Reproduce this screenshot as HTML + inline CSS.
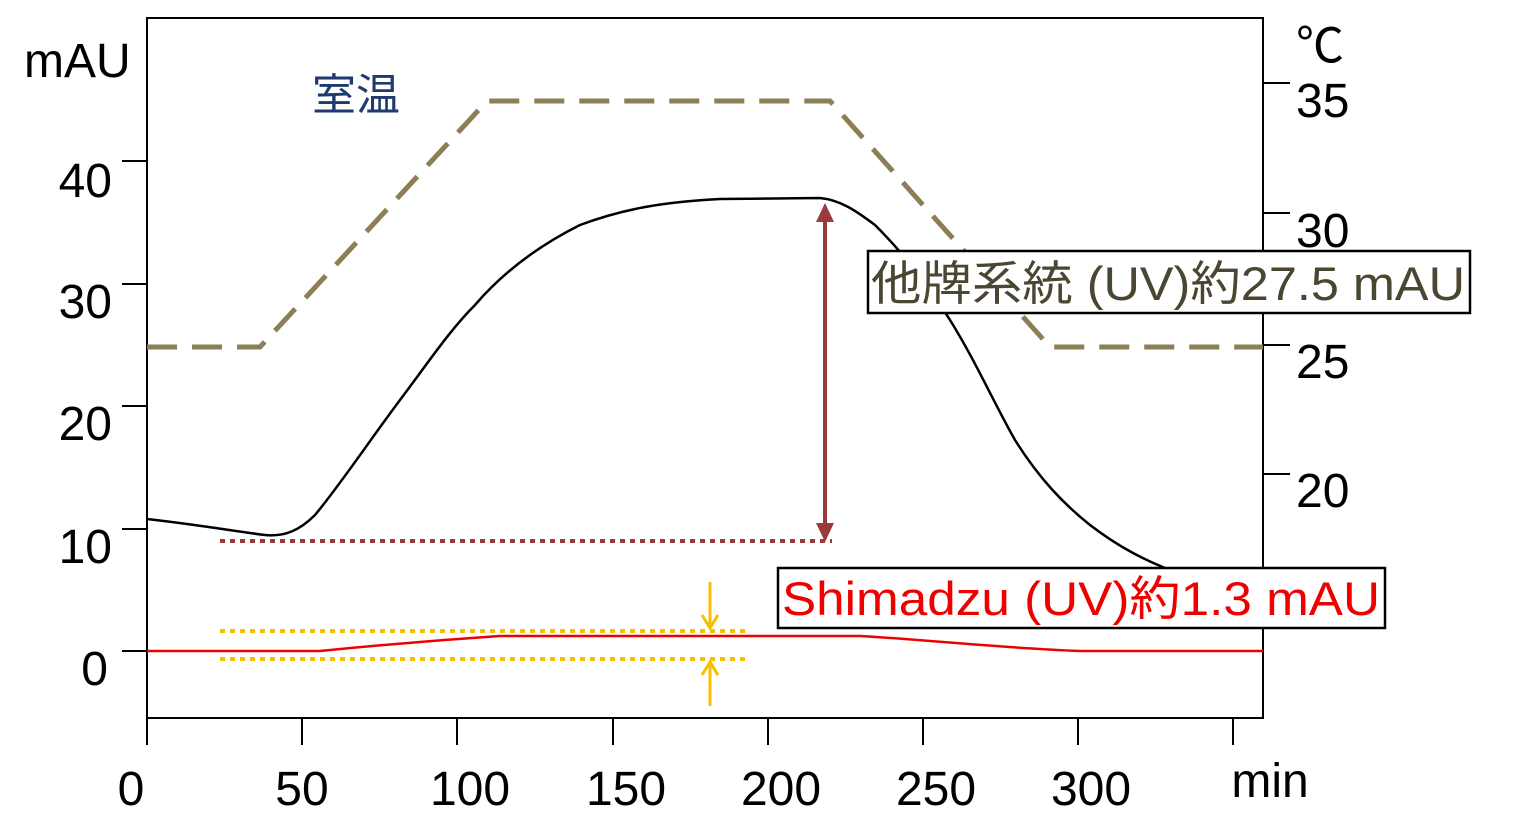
<!DOCTYPE html>
<html><head><meta charset="utf-8"><style>
html,body{margin:0;padding:0;background:#fff;width:1514px;height:828px;overflow:hidden}
svg text{font-family:"Liberation Sans","Noto Sans CJK JP",sans-serif}
</style></head><body>
<svg width="1514" height="828" viewBox="0 0 1514 828" xmlns="http://www.w3.org/2000/svg">
<rect x="147" y="18" width="1116" height="700" fill="none" stroke="#000" stroke-width="2"/>
<g stroke="#000" stroke-width="2">
<line x1="122" y1="161" x2="147" y2="161"/><line x1="122" y1="284" x2="147" y2="284"/>
<line x1="122" y1="406" x2="147" y2="406"/><line x1="122" y1="529" x2="147" y2="529"/>
<line x1="122" y1="651" x2="147" y2="651"/>
<line x1="1263" y1="83" x2="1290" y2="83"/><line x1="1263" y1="213" x2="1290" y2="213"/>
<line x1="1263" y1="345" x2="1290" y2="345"/><line x1="1263" y1="474" x2="1290" y2="474"/>
<line x1="147" y1="718" x2="147" y2="745"/><line x1="302" y1="718" x2="302" y2="745"/>
<line x1="457" y1="718" x2="457" y2="745"/><line x1="613" y1="718" x2="613" y2="745"/>
<line x1="768" y1="718" x2="768" y2="745"/><line x1="923" y1="718" x2="923" y2="745"/>
<line x1="1078" y1="718" x2="1078" y2="745"/><line x1="1233" y1="718" x2="1233" y2="745"/>
</g>
<g font-size="48" fill="#000">
<text x="112" y="197" text-anchor="end">40</text>
<text x="112" y="318" text-anchor="end">30</text>
<text x="112" y="440" text-anchor="end">20</text>
<text x="112" y="563" text-anchor="end">10</text>
<text x="108" y="685" text-anchor="end">0</text>
<text x="1296" y="117">35</text><text x="1296" y="247">30</text>
<text x="1296" y="378">25</text><text x="1296" y="507">20</text>
<text x="131" y="805" text-anchor="middle">0</text>
<text x="302" y="805" text-anchor="middle">50</text>
<text x="470" y="805" text-anchor="middle">100</text>
<text x="626" y="805" text-anchor="middle">150</text>
<text x="781" y="805" text-anchor="middle">200</text>
<text x="936" y="805" text-anchor="middle">250</text>
<text x="1091" y="805" text-anchor="middle">300</text>
<text x="1270" y="797" text-anchor="middle">min</text>
<text x="24" y="77">mAU</text>
<text x="1296" y="62">℃</text>
</g>
<text x="312" y="110" font-size="44" fill="#1f3a6e">室温</text>
<polyline points="147,347 260,347 487,101 830,101 1050,347 1263,347" fill="none" stroke="#8c7f55" stroke-width="5" stroke-dasharray="30,15"/>
<path d="M147,519 C200,525 240,532 265,535 C285,537 300,530 315,515 C340,485 370,440 400,400 C430,360 450,330 475,305 C505,270 540,245 580,225 C620,210 660,202 720,199 L820,198 C840,200 855,210 875,225 C900,250 925,280 950,320 C975,360 995,405 1015,440 C1040,480 1065,505 1090,525 C1120,548 1145,560 1170,570" fill="none" stroke="#000" stroke-width="2.5"/>
<path d="M147,651 L320,651 C380,645 440,640 500,636 L860,636 C930,640 1000,648 1080,651 L1263,651" fill="none" stroke="#e00" stroke-width="2.5"/>
<line x1="220" y1="541" x2="832" y2="541" stroke="#9b3a3a" stroke-width="4" stroke-dasharray="5,5"/>
<line x1="825" y1="215" x2="825" y2="530" stroke="#9b3a3a" stroke-width="4"/>
<polygon points="825,203 816,222 834,222" fill="#9b3a3a"/>
<polygon points="825,542 816,523 834,523" fill="#9b3a3a"/>
<line x1="220" y1="631" x2="750" y2="631" stroke="#f5c000" stroke-width="4" stroke-dasharray="5,5"/>
<line x1="220" y1="659" x2="750" y2="659" stroke="#f5c000" stroke-width="4" stroke-dasharray="5,5"/>
<line x1="710" y1="582" x2="710" y2="625" stroke="#f5c000" stroke-width="3"/>
<polyline points="702,615 710,628 718,615" fill="none" stroke="#f5c000" stroke-width="3"/>
<line x1="710" y1="665" x2="710" y2="706" stroke="#f5c000" stroke-width="3"/>
<polyline points="702,675 710,662 718,675" fill="none" stroke="#f5c000" stroke-width="3"/>
<rect x="868" y="251" width="602" height="62" fill="#fff" stroke="#000" stroke-width="2.5"/>
<text x="871" y="300" font-size="47" fill="#4a4632" textLength="594" lengthAdjust="spacingAndGlyphs">他牌系統 (UV)約27.5 mAU</text>
<rect x="778" y="568" width="607" height="60" fill="#fff" stroke="#000" stroke-width="2.5"/>
<text x="782" y="615" font-size="47" fill="#ee0000" textLength="598" lengthAdjust="spacingAndGlyphs">Shimadzu (UV)約1.3 mAU</text>
</svg>
</body></html>
